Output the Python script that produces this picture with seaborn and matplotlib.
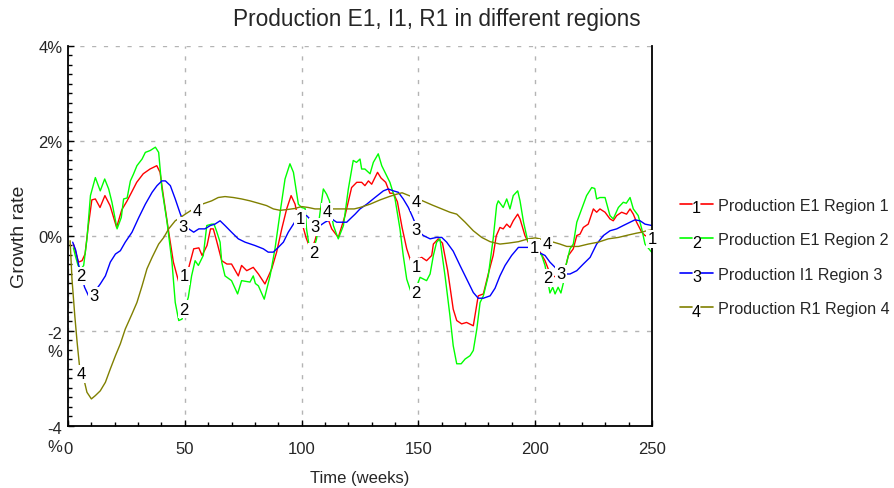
import numpy as np
import pandas as pd
import matplotlib
matplotlib.use("Agg")
import matplotlib.pyplot as plt
import seaborn as sns
from matplotlib.lines import Line2D
from matplotlib.text import Text
from matplotlib.legend_handler import HandlerBase
from matplotlib.ticker import MultipleLocator

# Production E1 Region 1 (red)
weeks_e1_r1 = [2.3, 4.5, 6.0, 7.3, 8.7, 10.2, 11.7, 13.7, 15.8, 18.0,
               20.8, 23.0, 25.3, 27.0, 29.4, 32.2, 35.1, 38.0, 39.4, 40.8,
               42.9, 45.1, 47.4, 51.7, 53.8, 56.0, 57.4, 59.5, 61.0, 62.2,
               63.6, 65.8, 68.0, 70.0, 72.9, 74.3, 76.5, 79.3, 81.5, 84.3,
               87.2, 89.3, 91.5, 93.6, 95.5, 97.2, 97.9, 100.0, 102.0, 104.0,
               105.7, 107.9, 109.3, 111.0, 112.9, 115.7, 118.6, 121.4, 123.6, 125.7,
               127.1, 128.6, 130.0, 132.5, 134.0, 136.0, 137.8, 139.3, 141.0, 143.0,
               145.0, 147.0, 151.4, 153.5, 155.7, 156.4, 158.5, 160.3, 162.5, 164.9,
               166.4, 168.5, 170.6, 173.5, 175.6, 177.8, 179.9, 182.0, 183.3, 184.9,
               186.3, 187.8, 189.2, 190.6, 192.5, 193.5, 195.6, 197.0, 200.0, 202.1,
               204.2, 205.3, 207.0, 208.5, 211.0, 212.8, 214.2, 216.3, 217.8, 219.2,
               220.6, 222.7, 224.9, 226.3, 227.7, 229.9, 232.0, 233.4, 234.9, 237.0,
               239.1, 240.6, 242.0, 243.4, 245.6, 247.0, 250.0]
growth_e1_r1 = [-0.17, -0.55, -0.52, -0.38, 0.22, 0.76, 0.78, 0.60, 0.85, 0.64,
                0.18, 0.55, 0.74, 0.90, 1.13, 1.31, 1.41, 1.48, 1.34, 0.85,
                0.15, -0.55, -0.97, -0.66, -0.27, -0.25, -0.41, -0.20, 0.15, 0.15,
                -0.10, -0.52, -0.59, -0.59, -0.84, -0.62, -0.73, -0.66, -0.80, -1.01,
                -0.69, -0.34, 0.15, 0.57, 0.85, 0.67, 0.50, 0.30, -0.05, -0.30,
                -0.10, 0.30, 0.46, 0.40, 0.15, -0.03, 0.43, 1.02, 1.13, 1.13,
                1.06, 1.16, 1.09, 1.34, 1.22, 1.13, 0.90, 0.90, 0.72, 0.18,
                -0.27, -0.57, -0.45, -0.52, -0.41, -0.17, -0.06, -0.15, -0.72, -1.54,
                -1.78, -1.85, -1.82, -1.89, -1.26, -1.22, -0.80, -0.41, 0.00, 0.18,
                0.15, 0.25, 0.18, 0.32, 0.46, 0.36, 0.01, -0.13, -0.25, -0.34,
                -0.52, -0.66, -0.87, -0.85, -0.80, -0.69, -0.41, -0.27, 0.01, 0.04,
                0.18, 0.25, 0.57, 0.50, 0.57, 0.50, 0.36, 0.32, 0.43, 0.50,
                0.46, 0.57, 0.46, 0.29, 0.08, 0.01, -0.05]

# Production E1 Region 2 (green)
weeks_e1_r2 = [2.3, 3.1, 4.3, 5.5, 6.7, 8.1, 9.6, 11.7, 13.8, 15.7,
               17.4, 18.8, 21.0, 22.8, 23.8, 25.3, 26.7, 28.0, 29.5, 31.7,
               33.1, 35.2, 37.4, 38.8, 40.2, 42.4, 44.5, 45.9, 47.4, 48.8,
               50.2, 51.5, 52.9, 54.4, 55.8, 57.9, 59.4, 61.5, 62.5, 63.6,
               65.1, 65.8, 67.2, 70.0, 72.6, 74.3, 77.9, 79.3, 80.2, 81.5,
               84.0, 86.5, 88.6, 90.8, 92.9, 95.0, 96.5, 98.6, 100.0, 101.5,
               102.1, 103.6, 105.0, 106.4, 107.9, 109.3, 110.7, 111.9, 113.6, 115.7,
               117.9, 120.0, 122.1, 123.5, 125.0, 125.7, 127.1, 129.3, 130.7, 132.8,
               134.3, 135.7, 137.8, 140.0, 142.1, 143.5, 145.0, 147.1, 149.0, 150.7,
               153.5, 155.0, 156.4, 157.8, 159.2, 161.4, 163.5, 164.9, 166.4, 168.3,
               170.0, 172.1, 173.5, 175.0, 176.4, 177.8, 179.9, 182.0, 183.5, 184.2,
               186.3, 187.8, 189.2, 190.6, 192.5, 193.5, 195.0, 196.8, 199.0, 202.8,
               204.2, 206.3, 207.5, 208.5, 209.8, 211.0, 212.0, 212.8, 214.9, 216.3,
               217.8, 219.9, 222.0, 224.2, 225.5, 226.3, 227.7, 229.9, 232.0, 233.4,
               235.6, 237.7, 239.0, 240.6, 242.0, 244.1, 245.6, 247.0, 250.0]
growth_e1_r2 = [-0.25, -0.41, -0.62, -0.70, -0.62, -0.06, 0.85, 1.23, 0.95, 1.20,
                0.99, 0.71, 0.15, 0.39, 0.78, 0.80, 1.16, 1.30, 1.48, 1.62,
                1.76, 1.80, 1.87, 1.76, 0.99, 0.29, -0.55, -1.40, -1.78, -1.75,
                -1.50, -1.29, -0.84, -0.52, -0.62, -0.41, 0.22, 0.25, 0.25, 0.10,
                -0.13, -0.55, -0.84, -0.94, -1.22, -0.94, -0.97, -0.84, -1.00, -1.05,
                -1.33, -0.84, -0.27, 0.50, 1.20, 1.52, 1.34, 0.67, 0.60, 0.58,
                0.15, -0.33, -0.30, -0.06, 0.50, 0.99, 0.88, 0.74, 0.22, -0.06,
                0.22, 0.99, 1.59, 1.55, 1.62, 1.41, 1.41, 1.31, 1.55, 1.73,
                1.48, 1.34, 1.13, 0.78, 0.15, -0.41, -0.91, -1.22, -1.10, -0.87,
                -0.94, -0.80, -0.41, -0.13, -0.06, -0.84, -1.68, -2.31, -2.69, -2.69,
                -2.59, -2.52, -2.41, -1.96, -1.40, -1.26, -0.84, -0.06, 0.65, 0.74,
                0.60, 0.78, 0.57, 0.85, 0.95, 0.74, 0.29, -0.10, -0.20, -0.41,
                -0.62, -1.20, -1.08, -1.22, -1.08, -1.20, -1.00, -0.69, -0.27, -0.17,
                0.29, 0.57, 0.85, 1.02, 1.00, 0.78, 0.81, 0.81, 0.43, 0.36,
                0.60, 0.71, 0.69, 0.81, 0.57, 0.43, 0.15, -0.17, -0.35]

# Production I1 Region 3 (blue)
weeks_i1_r3 = [2.0, 3.3, 4.6, 5.8, 7.1, 8.8, 11.0, 13.8, 16.0, 18.1,
               20.3, 22.4, 24.5, 27.4, 30.3, 33.1, 36.0, 38.1, 40.2, 41.7,
               43.8, 45.9, 48.1, 50.0, 51.7, 53.8, 56.0, 58.6, 60.9, 62.9,
               65.1, 67.2, 70.0, 72.9, 75.8, 80.0, 83.6, 85.7, 87.9, 90.0,
               92.2, 94.3, 96.5, 97.9, 100.0, 102.1, 104.3, 105.7, 107.9, 110.0,
               112.9, 115.0, 119.3, 121.4, 122.9, 125.0, 127.9, 131.4, 135.0, 137.1,
               139.3, 141.4, 143.5, 145.7, 147.6, 150.0, 152.1, 155.0, 157.8, 160.0,
               162.1, 164.9, 167.8, 170.7, 173.5, 175.6, 177.8, 180.7, 182.8, 184.9,
               187.1, 189.9, 192.8, 195.0, 197.0, 199.5, 201.3, 204.2, 206.3, 208.5,
               210.5, 212.8, 214.9, 217.8, 220.6, 223.5, 226.3, 229.2, 232.0, 234.9,
               237.7, 240.6, 242.7, 244.9, 247.0, 250.0]
growth_i1_r3 = [-0.13, -0.30, -0.62, -0.85, -1.08, -1.26, -1.20, -1.01, -0.84, -0.55,
                -0.38, -0.31, -0.13, 0.08, 0.39, 0.67, 0.92, 1.06, 1.16, 1.16,
                1.06, 0.78, 0.46, 0.25, 0.15, 0.08, 0.15, 0.15, 0.22, 0.25,
                0.32, 0.22, 0.08, -0.06, -0.13, -0.20, -0.27, -0.34, -0.34, -0.24,
                -0.13, 0.08, 0.25, 0.36, 0.42, 0.43, 0.32, 0.25, 0.22, 0.29,
                0.36, 0.29, 0.29, 0.39, 0.46, 0.57, 0.67, 0.81, 0.95, 0.99,
                0.95, 0.92, 0.78, 0.60, 0.39, 0.10, 0.01, -0.06, -0.03, -0.03,
                -0.13, -0.32, -0.62, -0.91, -1.19, -1.31, -1.31, -1.26, -1.10, -0.84,
                -0.62, -0.41, -0.24, -0.24, -0.24, -0.27, -0.34, -0.41, -0.55, -0.66,
                -0.78, -0.80, -0.80, -0.73, -0.59, -0.45, -0.17, 0.01, 0.11, 0.15,
                0.22, 0.29, 0.34, 0.32, 0.25, 0.22]

# Production R1 Region 4 (olive)
weeks_r1_r4 = [0.9, 1.7, 2.9, 3.9, 4.9, 6.0, 7.1, 8.1, 10.0, 11.7,
               13.8, 16.0, 18.1, 20.3, 22.4, 24.5, 27.4, 29.5, 31.7, 33.8,
               36.0, 38.8, 41.0, 43.1, 45.9, 48.1, 50.2, 52.4, 55.0, 57.4,
               61.5, 64.3, 67.2, 70.8, 74.3, 77.9, 81.5, 85.0, 87.9, 90.8,
               94.3, 97.2, 100.0, 102.9, 105.7, 110.0, 113.6, 122.5, 125.0, 129.3,
               133.6, 137.5, 140.7, 143.0, 146.0, 149.0, 151.8, 156.0, 159.5, 163.5,
               166.4, 170.0, 173.5, 177.1, 180.7, 184.9, 188.5, 192.8, 197.0, 200.0,
               202.0, 205.0, 207.8, 210.6, 213.5, 218.5, 222.7, 227.0, 231.3, 235.6,
               239.8, 243.4, 245.6, 247.7, 250.0]
growth_r1_r4 = [-0.10, -0.91, -1.68, -2.24, -2.73, -2.90, -3.08, -3.29, -3.43, -3.36,
                -3.26, -3.08, -2.80, -2.52, -2.27, -1.96, -1.64, -1.40, -1.05, -0.69,
                -0.45, -0.17, -0.03, 0.15, 0.32, 0.39, 0.46, 0.53, 0.60, 0.67,
                0.74, 0.81, 0.83, 0.81, 0.78, 0.74, 0.69, 0.64, 0.57, 0.54,
                0.56, 0.58, 0.62, 0.60, 0.57, 0.57, 0.57, 0.57, 0.60, 0.67,
                0.76, 0.83, 0.88, 0.91, 0.85, 0.80, 0.74, 0.65, 0.58, 0.50,
                0.46, 0.29, 0.11, -0.03, -0.12, -0.17, -0.15, -0.12, -0.06, -0.04,
                -0.06, -0.10, -0.13, -0.17, -0.22, -0.22, -0.17, -0.13, -0.06, -0.03,
                0.02, 0.06, 0.08, 0.11, 0.13]

series_names = ["Production E1 Region 1", "Production E1 Region 2",
                "Production I1 Region 3", "Production R1 Region 4"]
series_colors = ["#ff0000", "#00ff00", "#0000ff", "#808000"]

# curve number tags placed along the lines
tag_weeks_1 = [49.7, 99.3, 149.0, 199.5, 250.0]
tag_values_1 = [-0.84, 0.36, -0.65, -0.25, -0.06]
tag_weeks_2 = [5.6, 49.7, 105.3, 149.0, 205.5]
tag_values_2 = [-0.84, -1.54, -0.34, -1.18, -0.88]
tag_weeks_3 = [11.1, 49.2, 105.7, 149.0, 211.0]
tag_values_3 = [-1.26, 0.21, 0.19, 0.13, -0.80]
tag_weeks_4 = [5.6, 55.2, 110.9, 149.0, 205.0]
tag_values_4 = [-2.90, 0.53, 0.51, 0.72, -0.15]

y_ticks = [-4, -2, 0, 2, 4]
y_tick_labels = [" \n-4\n%", " \n-2\n%", "0%", "2%", "4%"]
x_ticks = [0, 50, 100, 150, 200, 250]


class NumberedLine(HandlerBase):
    """Legend handle drawn as a short line with the curve number in the middle"""
    def __init__(self, number):
        super().__init__()
        self.number = number

    def create_artists(self, legend, orig_handle, xdescent, ydescent,
                       width, height, fontsize, trans):
        color = orig_handle.get_color()
        y = height / 2 - ydescent
        x0 = -xdescent
        left = Line2D([x0, x0 + width * 0.36], [y, y], color=color, lw=1.2, transform=trans)
        right = Line2D([x0 + width * 0.64, x0 + width], [y, y], color=color, lw=1.2, transform=trans)
        num = Text(x0 + width / 2, y - fontsize * 0.25, self.number, ha="center", va="center",
                   fontsize=fontsize, color="black", transform=trans)
        return [left, right, num]


frames = []
for name, w, g in zip(series_names,
                      [weeks_e1_r1, weeks_e1_r2, weeks_i1_r3, weeks_r1_r4],
                      [growth_e1_r1, growth_e1_r2, growth_i1_r3, growth_r1_r4]):
    frames.append(pd.DataFrame({"week": w, "growth": g, "series": name}))
df = pd.concat(frames, ignore_index=True)

sns.set_theme(style="white")
plt.rcParams["font.family"] = ["Liberation Sans", "DejaVu Sans"]

fig = plt.figure(figsize=(8.95, 4.89), dpi=100)
ax = fig.add_axes([0.076, 0.1268, 0.6525, 0.7771])

sns.lineplot(data=df, x="week", y="growth", hue="series", hue_order=series_names,
             palette=dict(zip(series_names, series_colors)), estimator=None,
             sort=False, linewidth=1.0, ax=ax)

# curve number tags with white boxes that cut the lines
tags = [(tag_weeks_1, tag_values_1, "1"), (tag_weeks_2, tag_values_2, "2"),
        (tag_weeks_3, tag_values_3, "3"), (tag_weeks_4, tag_values_4, "4")]
for tw, tv, num in tags:
    for w, v in zip(tw, tv):
        ax.text(w, v, num, ha="center", va="center", fontsize=12, color="black",
                zorder=6, clip_on=False,
                bbox=dict(boxstyle="square,pad=0.08", fc="white", ec="none"))

ax.set_xlim(0, 250)
ax.set_ylim(-4, 4)
ax.set_xticks(x_ticks)
ax.set_yticks(y_ticks)
ax.set_yticklabels(y_tick_labels)
ax.xaxis.set_minor_locator(MultipleLocator(10))
ax.yaxis.set_minor_locator(MultipleLocator(0.2))
ax.tick_params(which="both", direction="in", color="black", width=1.0, labelsize=12,
               left=True, bottom=True)
ax.tick_params(which="major", length=4)
ax.tick_params(which="minor", length=3)
ax.tick_params(axis="y", pad=4)
ax.tick_params(axis="x", pad=11)

ax.grid(True, which="major", color="#b4b4b4", linestyle=(0, (3, 5.5)), linewidth=1.0)
ax.set_axisbelow(True)

for side in ["left", "bottom", "right"]:
    ax.spines[side].set_visible(True)
    ax.spines[side].set_color("black")
    ax.spines[side].set_linewidth(1.3)
ax.spines["top"].set_visible(False)

ax.set_xlabel("Time (weeks)", fontsize=12, labelpad=10)
ax.set_ylabel("Growth rate", fontsize=14, labelpad=7)
fig.text(0.488, 0.961, "Production E1, I1, R1 in different regions",
         ha="center", va="center", fontsize=16.3)

handles, labels = ax.get_legend_handles_labels()
ax.legend(handles, labels,
          handler_map={h: NumberedLine(str(i + 1)) for i, h in enumerate(handles)},
          loc="upper left", bbox_to_anchor=(0.7598, 0.594), bbox_transform=fig.transFigure,
          frameon=False, fontsize=11.6, handlelength=2.05, handletextpad=0.3,
          labelspacing=1.21, borderpad=0, borderaxespad=0)

fig.savefig("out.png", dpi=100)
